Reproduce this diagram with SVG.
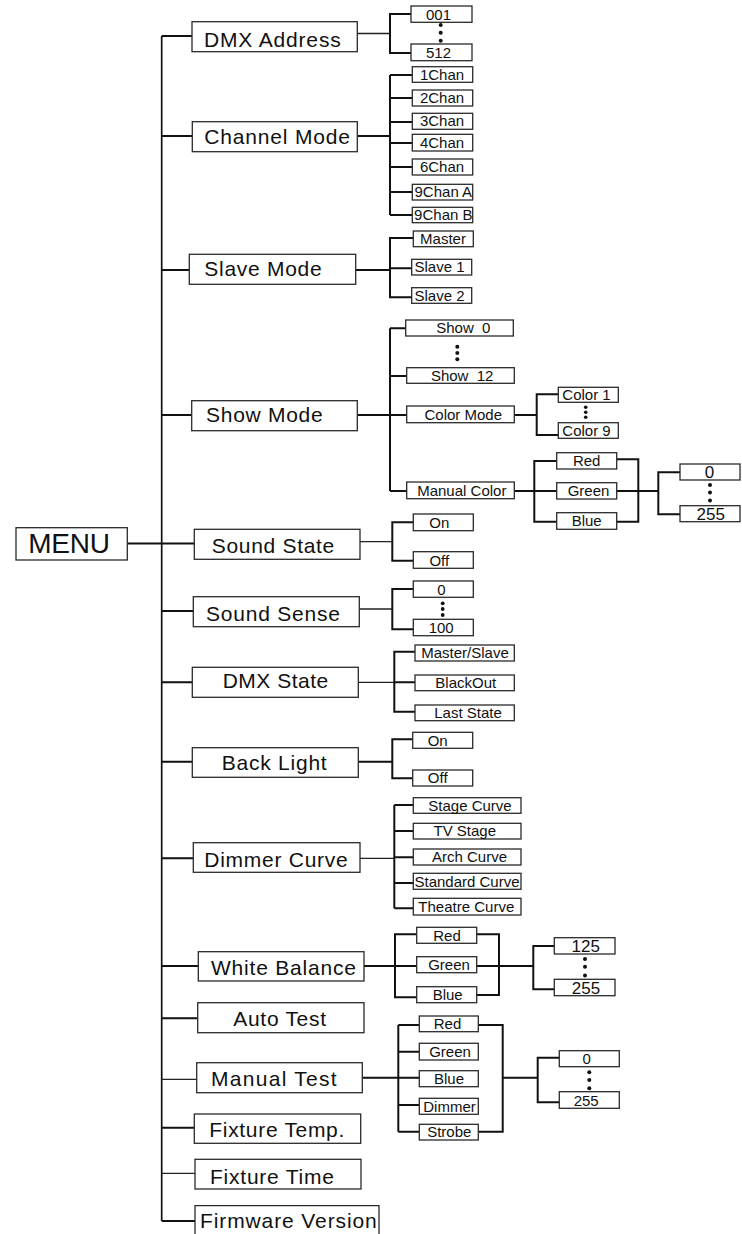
<svg xmlns="http://www.w3.org/2000/svg" width="742" height="1234" viewBox="0 0 742 1234">
<style>
.bg{fill:#fff}
.box{fill:#fff;stroke:#2a2a2a;stroke-width:1.3}
.big{font-family:"Liberation Sans",Arial,sans-serif;font-size:21px;fill:#111}
.menu{font-family:"Liberation Sans",Arial,sans-serif;font-size:28px;fill:#111}
.sm{font-family:"Liberation Sans",Arial,sans-serif;font-size:15px;fill:#111;text-anchor:middle}
.num{font-family:"Liberation Sans",Arial,sans-serif;font-size:17px;fill:#111;text-anchor:middle}
.c{stroke:#111;stroke-width:2;fill:none}
.thin{stroke:#222;stroke-width:1.3;fill:none}
.main{stroke:#111;stroke-width:1.7;fill:none}
.dot{fill:#111}
</style>
<rect class="bg" x="0" y="0" width="742" height="1234"/>
<g id="connectors">
<path class="main" d="M161.7 36 V1221"/>
<path class="c" d="M127.3 543.5 H194.3"/>
<path class="c" d="M161.7 36 H192 M161.7 136 H192.3 M161.7 270 H189.3 M161.7 415 H191.7 M161.7 611 H193.3 M161.7 682.3 H192.3 M161.7 761.7 H192.3 M161.7 858.3 H193.3 M161.7 966 H198.3 M161.7 1018.3 H197.7 M161.7 1127.7 H194.3 M161.7 1221 H195"/>
<path class="thin" d="M161.7 1079.3 H196.7 M161.7 1173.3 H195"/>
<!-- DMX Address -->
<path class="thin" d="M357.3 33.5 H390"/>
<path class="c" d="M411 14 H390 V53 H411"/>
<!-- Channel Mode -->
<path class="c" d="M357.3 136 H390 M390 75 V215 M390 75 H412.3 M390 98 H412.3 M390 122 H412.3 M390 143 H412.3 M390 167 H412.3 M390 192 H412.3 M390 215 H412.3"/>
<!-- Slave Mode -->
<path class="c" d="M355.7 270 H390 M413.3 238 H390 V297.3 H411.7 M390 268.3 H411.7"/>
<!-- Show Mode -->
<path class="c" d="M357.3 415 H390 M390 328.3 V491 M390 328.3 H405.7 M390 376 H406.7 M390 415 H406.7 M390 491 H406.7"/>
<path class="c" d="M514.3 415 H536.7 M558.3 394.3 H536.7 V435 H558.3"/>
<path class="c" d="M514.3 491 H556.7 M556.7 461 H534.3 V521.7 H556.7"/>
<path class="c" d="M616.7 459.3 H638.3 V521.7 H616.7 M616.7 491 H658.3 M680 472.3 H658.3 V514.3 H680"/>
<!-- Sound State -->
<path class="thin" d="M360 541.7 H392.3"/>
<path class="c" d="M413.3 522.3 H392.3 V560.7 H413.3"/>
<!-- Sound Sense -->
<path class="thin" d="M359.3 609 H392.3"/>
<path class="c" d="M413.3 589 H392.3 V629.3 H413.3"/>
<!-- DMX State -->
<path class="thin" d="M358.3 682.3 H394.3"/>
<path class="c" d="M415 651.7 H394.3 V711.7 H415 M394.3 682.3 H415"/>
<!-- Back Light -->
<path class="c" d="M358.3 761.7 H392.3 M412.7 739.3 H392.3 V778.3 H412.7"/>
<!-- Dimmer Curve -->
<path class="thin" d="M360 858.3 H394.3"/>
<path class="c" d="M394.3 805 V908.3 M394.3 805 H413.3 M394.3 831 H413.3 M394.3 857.3 H413.3 M394.3 883 H413.3 M394.3 908.3 H413.3"/>
<!-- White Balance -->
<path class="c" d="M364 966 H416.7 M416.7 934.3 H395 V997.3 H416.7"/>
<path class="c" d="M476.7 934.3 H499 V995 H476.7 M476.7 966 H533.3 M554.3 946 H533.3 V989.3 H554.3"/>
<!-- Manual Test -->
<path class="c" d="M362.3 1077.7 H398.3 M398.3 1025 V1131.7 M398.3 1025 H419.3 M398.3 1051.7 H419.3 M398.3 1077.7 H419.3 M398.3 1105 H419.3 M398.3 1131.7 H419.3"/>
<path class="c" d="M478.3 1025 H502.7 V1131.7 H478.3 M502.7 1077.7 H537.7 M559.3 1057.7 H537.7 V1102.3 H559.3"/>
</g>

<g id="menu"><rect class="box" x="16" y="527.7" width="111.3" height="32.3"/><text class="menu" x="28.3" y="553.3" textLength="81.7">MENU</text></g>

<g id="dmx-address"><rect class="box" x="192" y="21.7" width="165.3" height="30"/><text class="big" x="204" y="46.5" textLength="136.7">DMX Address</text></g>
<g id="dmx-001"><rect class="box" x="411" y="6" width="61" height="16.3"/><text class="sm" x="438.5" y="20">001</text></g>
<g id="dmx-dots"><circle class="dot" cx="440.7" cy="25" r="2"/><circle class="dot" cx="440.7" cy="32.7" r="2"/><circle class="dot" cx="440.7" cy="40.7" r="2"/></g>
<g id="dmx-512"><rect class="box" x="411" y="44" width="61" height="16.7"/><text class="sm" x="438.5" y="58">512</text></g>

<g id="channel-mode"><rect class="box" x="192.3" y="121.7" width="165" height="30"/><text class="big" x="204.3" y="144" textLength="145.7">Channel Mode</text></g>
<g id="ch-1"><rect class="box" x="412.3" y="66.7" width="60.4" height="15.6"/><text class="sm" x="442" y="79.5">1Chan</text></g>
<g id="ch-2"><rect class="box" x="412.3" y="90" width="60.4" height="16"/><text class="sm" x="442" y="103">2Chan</text></g>
<g id="ch-3"><rect class="box" x="412.3" y="113.3" width="60.4" height="16"/><text class="sm" x="442" y="126.3">3Chan</text></g>
<g id="ch-4"><rect class="box" x="412.3" y="134.3" width="60.4" height="16.7"/><text class="sm" x="442" y="148">4Chan</text></g>
<g id="ch-6"><rect class="box" x="412.3" y="159" width="60.4" height="16"/><text class="sm" x="442" y="172">6Chan</text></g>
<g id="ch-9a"><rect class="box" x="412.3" y="184.3" width="60.4" height="15.7"/><text class="sm" x="443.3" y="197">9Chan A</text></g>
<g id="ch-9b"><rect class="box" x="412.3" y="207.3" width="60.4" height="15.4"/><text class="sm" x="443.3" y="220">9Chan B</text></g>

<g id="slave-mode"><rect class="box" x="189.3" y="254.3" width="166.4" height="30"/><text class="big" x="204.3" y="276" textLength="117.4">Slave Mode</text></g>
<g id="sl-master"><rect class="box" x="413.3" y="231" width="60" height="15.7"/><text class="sm" x="443" y="244">Master</text></g>
<g id="sl-1"><rect class="box" x="411.7" y="259.3" width="60" height="15.7"/><text class="sm" x="439.5" y="272.3">Slave 1</text></g>
<g id="sl-2"><rect class="box" x="411.7" y="287.7" width="60" height="15.6"/><text class="sm" x="439.5" y="300.5">Slave 2</text></g>

<g id="show-mode"><rect class="box" x="191.7" y="400.7" width="165.6" height="30"/><text class="big" x="206" y="422.3" textLength="116.7">Show Mode</text></g>
<g id="show-0"><rect class="box" x="405.7" y="320" width="107.6" height="16"/><text class="sm" x="463.3" y="333" xml:space="preserve">Show  0</text></g>
<g id="show-dots"><circle class="dot" cx="457.3" cy="346.7" r="2"/><circle class="dot" cx="457.3" cy="352.9" r="2"/><circle class="dot" cx="457.3" cy="359.3" r="2"/></g>
<g id="show-12"><rect class="box" x="406.7" y="367.7" width="107.6" height="15.6"/><text class="sm" x="462.2" y="380.5" xml:space="preserve">Show  12</text></g>
<g id="color-mode"><rect class="box" x="406.7" y="406" width="107.6" height="16.7"/><text class="sm" x="463.3" y="419.7">Color Mode</text></g>
<g id="color-1"><rect class="box" x="558.3" y="387.3" width="60" height="15"/><text class="sm" x="586.5" y="399.7">Color 1</text></g>
<g id="color-dots"><circle class="dot" cx="585.7" cy="407.3" r="1.8"/><circle class="dot" cx="585.7" cy="412.3" r="1.8"/><circle class="dot" cx="585.7" cy="417.3" r="1.8"/></g>
<g id="color-9"><rect class="box" x="558.3" y="422.7" width="60" height="15.6"/><text class="sm" x="586.5" y="435.5">Color 9</text></g>
<g id="manual-color"><rect class="box" x="406.7" y="482" width="107.6" height="16.7"/><text class="sm" x="461.8" y="495.7">Manual Color</text></g>
<g id="mc-red"><rect class="box" x="556.7" y="452.7" width="60" height="16.3"/><text class="sm" x="586.7" y="466">Red</text></g>
<g id="mc-green"><rect class="box" x="556.7" y="482.7" width="60" height="16.3"/><text class="sm" x="588.5" y="496">Green</text></g>
<g id="mc-blue"><rect class="box" x="556.7" y="512.7" width="60" height="16.6"/><text class="sm" x="586.7" y="526.3">Blue</text></g>
<g id="mc-0"><rect class="box" x="680" y="464" width="60" height="16"/><text class="num" x="709.5" y="478.3">0</text></g>
<g id="mc-dots"><circle class="dot" cx="710" cy="485" r="2"/><circle class="dot" cx="710" cy="492.5" r="2"/><circle class="dot" cx="710" cy="500.5" r="2"/></g>
<g id="mc-255"><rect class="box" x="680" y="505.7" width="60" height="16"/><text class="num" x="710.8" y="520">255</text></g>

<g id="sound-state"><rect class="box" x="194.3" y="529.3" width="165.7" height="30"/><text class="big" x="211.7" y="553.3" textLength="122.6">Sound State</text></g>
<g id="ss-on"><rect class="box" x="413.3" y="514" width="60" height="16.7"/><text class="sm" x="439.3" y="528">On</text></g>
<g id="ss-off"><rect class="box" x="413.3" y="551.7" width="60" height="16.6"/><text class="sm" x="439.3" y="565.5">Off</text></g>

<g id="sound-sense"><rect class="box" x="193.3" y="596.7" width="166" height="30"/><text class="big" x="206" y="620.7" textLength="134">Sound Sense</text></g>
<g id="sn-0"><rect class="box" x="413.3" y="581" width="60" height="16.3"/><text class="sm" x="441.5" y="594.5">0</text></g>
<g id="sn-dots"><circle class="dot" cx="442.7" cy="603.3" r="1.9"/><circle class="dot" cx="442.7" cy="609" r="1.9"/><circle class="dot" cx="442.7" cy="615" r="1.9"/></g>
<g id="sn-100"><rect class="box" x="413.3" y="619.3" width="60" height="16.4"/><text class="sm" x="441.2" y="633">100</text></g>

<g id="dmx-state"><rect class="box" x="192.3" y="667.3" width="166" height="30"/><text class="big" x="222.7" y="688.3" textLength="105.6">DMX State</text></g>
<g id="ds-ms"><rect class="box" x="415" y="645" width="99.3" height="16"/><text class="sm" x="465" y="658">Master/Slave</text></g>
<g id="ds-bo"><rect class="box" x="415" y="675" width="99.3" height="15.7"/><text class="sm" x="465.8" y="688">BlackOut</text></g>
<g id="ds-ls"><rect class="box" x="415" y="705" width="99.3" height="15.7"/><text class="sm" x="468" y="718">Last State</text></g>

<g id="back-light"><rect class="box" x="192.3" y="747.7" width="166" height="29.6"/><text class="big" x="221.7" y="770" textLength="105">Back Light</text></g>
<g id="bl-on"><rect class="box" x="412.7" y="732.3" width="60" height="16"/><text class="sm" x="437.7" y="745.5">On</text></g>
<g id="bl-off"><rect class="box" x="412.7" y="770" width="60" height="16"/><text class="sm" x="437.7" y="783.3">Off</text></g>

<g id="dimmer-curve"><rect class="box" x="193.3" y="842.7" width="166.7" height="29.6"/><text class="big" x="204.3" y="866.7" textLength="143.4">Dimmer Curve</text></g>
<g id="dc-stage"><rect class="box" x="413.3" y="797.7" width="107.7" height="15.6"/><text class="sm" x="470" y="810.5">Stage Curve</text></g>
<g id="dc-tv"><rect class="box" x="413.3" y="823.3" width="107.7" height="15.7"/><text class="sm" x="464.8" y="836.3">TV Stage</text></g>
<g id="dc-arch"><rect class="box" x="413.3" y="849" width="107.7" height="16"/><text class="sm" x="469.5" y="862">Arch Curve</text></g>
<g id="dc-std"><rect class="box" x="413.3" y="873.3" width="107.7" height="16"/><text class="sm" x="467" y="886.5" textLength="105">Standard Curve</text></g>
<g id="dc-theatre"><rect class="box" x="413.3" y="898.3" width="107.7" height="16.7"/><text class="sm" x="466.3" y="912">Theatre Curve</text></g>

<g id="white-balance"><rect class="box" x="198.3" y="951.7" width="165.7" height="29.3"/><text class="big" x="211" y="975" textLength="145">White Balance</text></g>
<g id="wb-red"><rect class="box" x="416.7" y="927.3" width="60" height="16"/><text class="sm" x="447" y="940.5">Red</text></g>
<g id="wb-green"><rect class="box" x="416.7" y="956.7" width="60" height="16"/><text class="sm" x="449" y="970">Green</text></g>
<g id="wb-blue"><rect class="box" x="416.7" y="986.7" width="60" height="16"/><text class="sm" x="447.7" y="1000">Blue</text></g>
<g id="wb-125"><rect class="box" x="554.3" y="937.7" width="60.7" height="16.3"/><text class="num" x="585.8" y="952.3">125</text></g>
<g id="wb-dots"><circle class="dot" cx="585" cy="959" r="2"/><circle class="dot" cx="585" cy="966.7" r="2"/><circle class="dot" cx="585" cy="975.5" r="2"/></g>
<g id="wb-255"><rect class="box" x="554.3" y="979.3" width="60.7" height="16.4"/><text class="num" x="586" y="994">255</text></g>

<g id="auto-test"><rect class="box" x="197.7" y="1002.7" width="166.3" height="30"/><text class="big" x="233.3" y="1026" textLength="92.7">Auto Test</text></g>

<g id="manual-test"><rect class="box" x="196.7" y="1062.7" width="165.6" height="30"/><text class="big" x="211" y="1085.7" textLength="125.7">Manual Test</text></g>
<g id="mt-red"><rect class="box" x="419.3" y="1016" width="59" height="15.7"/><text class="sm" x="447.5" y="1029">Red</text></g>
<g id="mt-green"><rect class="box" x="419.3" y="1043.3" width="59" height="16.7"/><text class="sm" x="450" y="1057">Green</text></g>
<g id="mt-blue"><rect class="box" x="419.3" y="1070.7" width="59" height="16"/><text class="sm" x="449" y="1084">Blue</text></g>
<g id="mt-dimmer"><rect class="box" x="419.3" y="1098.3" width="59" height="16"/><text class="sm" x="449.5" y="1111.5">Dimmer</text></g>
<g id="mt-strobe"><rect class="box" x="419.3" y="1124.3" width="59" height="15.7"/><text class="sm" x="449.3" y="1137.3">Strobe</text></g>
<g id="mt-0"><rect class="box" x="559.3" y="1050.7" width="60" height="16"/><text class="sm" x="586.7" y="1064">0</text></g>
<g id="mt-dots"><circle class="dot" cx="589.3" cy="1072.3" r="2"/><circle class="dot" cx="589.3" cy="1080" r="2"/><circle class="dot" cx="589.3" cy="1088.3" r="2"/></g>
<g id="mt-255"><rect class="box" x="559.3" y="1091.7" width="60" height="16.6"/><text class="sm" x="586.2" y="1105.5">255</text></g>

<g id="fixture-temp"><rect class="box" x="194.3" y="1114" width="166.4" height="29.3"/><text class="big" x="209.3" y="1136.7" textLength="135">Fixture Temp.</text></g>
<g id="fixture-time"><rect class="box" x="195" y="1159.3" width="166" height="29.7"/><text class="big" x="210" y="1184" textLength="124">Fixture Time</text></g>
<g id="firmware-version"><path class="box" d="M195 1240 V1205.7 H379 V1240"/><text class="big" x="200" y="1228.3" textLength="176.7">Firmware Version</text></g>
</svg>
